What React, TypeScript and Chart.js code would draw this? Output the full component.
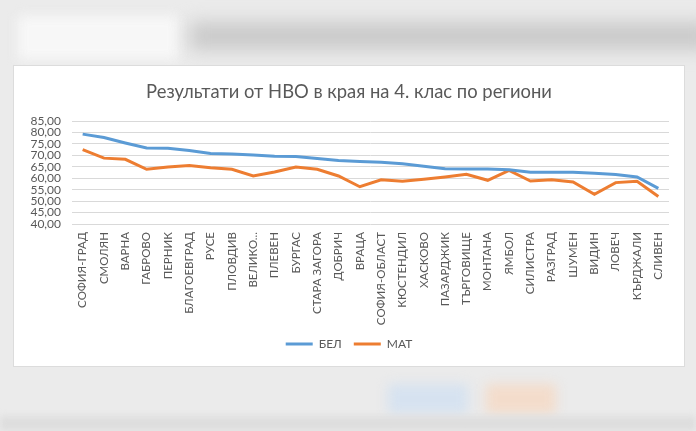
import Chart, { ChartConfiguration } from "chart.js/auto";
import React, { useEffect, useRef } from "react";

const regions = [
  "СОФИЯ-ГРАД",
  "СМОЛЯН",
  "ВАРНА",
  "ГАБРОВО",
  "ПЕРНИК",
  "БЛАГОЕВГРАД",
  "РУСЕ",
  "ПЛОВДИВ",
  "ВЕЛИКО...",
  "ПЛЕВЕН",
  "БУРГАС",
  "СТАРА ЗАГОРА",
  "ДОБРИЧ",
  "ВРАЦА",
  "СОФИЯ-ОБЛАСТ",
  "КЮСТЕНДИЛ",
  "ХАСКОВО",
  "ПАЗАРДЖИК",
  "ТЪРГОВИЩЕ",
  "МОНТАНА",
  "ЯМБОЛ",
  "СИЛИСТРА",
  "РАЗГРАД",
  "ШУМЕН",
  "ВИДИН",
  "ЛОВЕЧ",
  "КЪРДЖАЛИ",
  "СЛИВЕН",
];

// БЕЛ – български език и литература
const bel = [
  79.3, 77.8, 75.4, 73.2, 73.1, 72.1, 70.8, 70.6, 70.2, 69.6, 69.5, 68.6, 67.8,
  67.3, 67.0, 66.3, 65.3, 64.2, 64.0, 64.0, 63.7, 62.6, 62.6, 62.6, 62.2, 61.6,
  60.6, 55.6,
];

// МАТ – математика
const mat = [
  72.5, 68.8, 68.3, 63.9, 64.9, 65.6, 64.6, 63.9, 61.0, 62.7, 64.9, 63.9, 61.0,
  56.3, 59.3, 58.7, 59.6, 60.6, 61.7, 59.1, 63.4, 58.8, 59.3, 58.4, 53.0, 58.1,
  58.7, 52.0,
];

const yMin = 40;
const yMax = 85;
const yStep = 5;

const FONT = "Lato, 'Open Sans', sans-serif";
const GREY = "#595959";

const ResultsChart = () => {
  const canvasEl = useRef<HTMLCanvasElement>(null);

  useEffect(() => {
    const ctx = canvasEl.current!.getContext("2d")!;
    const config = {
      type: "line",
      data: {
        labels: regions,
        datasets: [
          {
            label: "БЕЛ",
            data: bel,
            borderColor: "#5b9bd5",
            backgroundColor: "#5b9bd5",
            borderWidth: 3,
            pointRadius: 0,
            tension: 0,
          },
          {
            label: "МАТ",
            data: mat,
            borderColor: "#ed7d31",
            backgroundColor: "#ed7d31",
            borderWidth: 3,
            pointRadius: 0,
            tension: 0,
          },
        ],
      },
      options: {
        animation: false,
        responsive: false,
        maintainAspectRatio: false,
        layout: { padding: { left: 0, right: 0, top: 0, bottom: 6 } },
        plugins: {
          title: {
            display: true,
            text: "Результати от НВО в края на 4. клас по региони",
            color: GREY,
            font: { family: FONT, size: 18.4, weight: "normal" },
            padding: { top: 15, bottom: 18 },
          },
          legend: {
            position: "bottom",
            labels: {
              color: GREY,
              font: { family: FONT, size: 12 },
              usePointStyle: true,
              pointStyle: "line",
              pointStyleWidth: 27,
              boxHeight: 12,
              padding: 12,
            },
          },
          tooltip: { enabled: false },
        },
        scales: {
          x: {
            offset: true,
            grid: { display: false, drawTicks: false },
            border: { display: false },
            ticks: {
              color: GREY,
              font: { family: FONT, size: 11.5 },
              minRotation: 90,
              maxRotation: 90,
              autoSkip: false,
              padding: 8,
            },
            afterFit: (s: any) => {
              s.height = 102;
            },
          },
          y: {
            min: yMin,
            max: yMax,
            grid: { color: "#d9d9d9", lineWidth: 1, drawTicks: false },
            border: { display: false },
            ticks: {
              stepSize: yStep,
              autoSkip: false,
              color: GREY,
              font: { family: FONT, size: 12 },
              padding: 11,
              callback: (v: any) => Number(v).toFixed(2).replace(".", ","),
            },
            afterFit: (s: any) => {
              s.width = 58;
            },
          },
          // empty right-hand spacer so the plot ends where the reference does
          yRight: {
            position: "right",
            min: yMin,
            max: yMax,
            grid: { display: false, drawTicks: false },
            border: { display: false },
            ticks: { display: false },
            afterFit: (s: any) => {
              s.width = 15;
            },
          },
        },
      },
    } as ChartConfiguration;
    const chart = new Chart(ctx, config);
    return () => {
      chart.destroy();
    };
  }, []);

  return <canvas ref={canvasEl} width={670} height={300}></canvas>;
};

const App = () => {
  return (
    <div
      style={{
        position: "fixed",
        left: 0,
        top: 0,
        width: 696,
        height: 431,
        overflow: "hidden",
        background: "#ebebeb",
      }}
    >
      {/* blurred page surroundings */}
      <div
        style={{
          position: "absolute",
          left: 18,
          top: 16,
          width: 160,
          height: 44,
          background: "#f7f7f7",
          filter: "blur(6px)",
        }}
      />
      <div
        style={{
          position: "absolute",
          left: 190,
          top: 22,
          width: 520,
          height: 28,
          background: "#cacaca",
          filter: "blur(9px)",
        }}
      />
      <div
        style={{
          position: "absolute",
          left: 388,
          top: 384,
          width: 80,
          height: 30,
          background: "#d6e2f0",
          filter: "blur(6px)",
        }}
      />
      <div
        style={{
          position: "absolute",
          left: 486,
          top: 384,
          width: 70,
          height: 30,
          background: "#f3dccb",
          filter: "blur(6px)",
        }}
      />
      <div
        style={{
          position: "absolute",
          left: 0,
          top: 416,
          width: 696,
          height: 15,
          background: "#dedede",
          filter: "blur(3px)",
        }}
      />
      <div
        style={{
          position: "absolute",
          left: 14,
          top: 66,
          width: 670,
          height: 300,
          background: "#ffffff",
          boxShadow: "0 0 0 1px #dcdcdc",
        }}
      >
        <ResultsChart />
      </div>
    </div>
  );
};

export default App;
